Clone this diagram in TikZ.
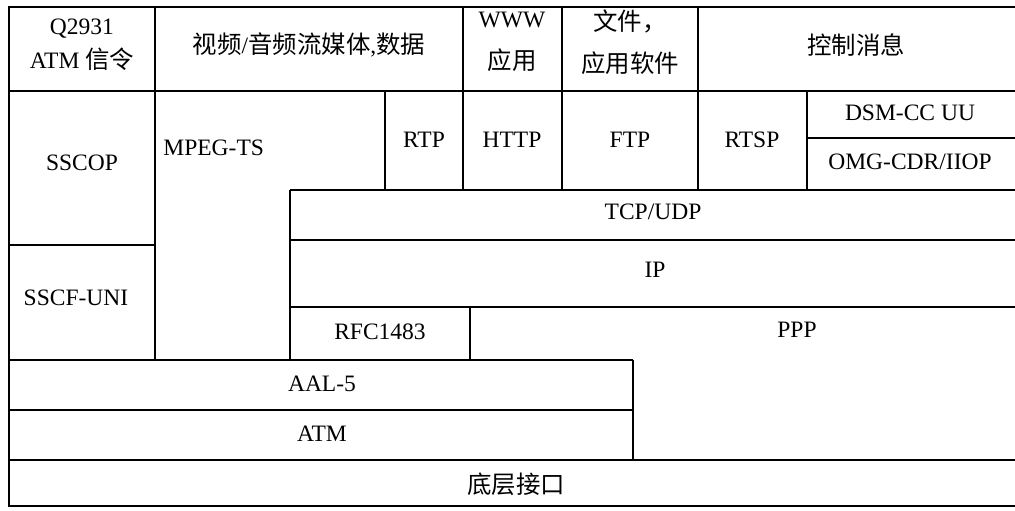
\documentclass[tikz,border=0pt]{standalone}
\usepackage{fontspec}
\setmainfont{Liberation Serif}
\newfontfamily\cjk{Noto Sans CJK SC}[Scale=1.04]
\begin{document}
\begin{tikzpicture}[
            x=0.5bp, y=-0.5bp,
            every node/.style={font=\fontsize{11.8}{17}\selectfont, inner sep=0pt, align=center},
            grid/.style={draw=black, line width=0.6pt},
            frame/.style={draw=black, line width=1pt},
        ]
            \useasboundingbox (0, 0) rectangle (1015, 511);
            % outer frame
            \draw[frame] (1015, 7) -- (9, 7) -- (9, 506) -- (1015, 506);
            % horizontal lines
            \draw[grid] (9, 91) -- (1015, 91);
            \draw[grid] (807, 138) -- (1015, 138);
            \draw[grid] (290, 190) -- (1015, 190);
            \draw[grid] (290, 240) -- (1015, 240);
            \draw[grid] (9, 245) -- (155, 245);
            \draw[grid] (290, 307) -- (1015, 307);
            \draw[grid] (9, 360) -- (633, 360);
            \draw[grid] (9, 410) -- (633, 410);
            \draw[grid] (9, 460) -- (1015, 460);
            % vertical lines
            \draw[grid] (155, 7) -- (155, 360);
            \draw[grid] (463, 7) -- (463, 190);
            \draw[grid] (562, 7) -- (562, 190);
            \draw[grid] (698, 7) -- (698, 190);
            \draw[grid] (385, 91) -- (385, 190);
            \draw[grid] (807, 91) -- (807, 190);
            \draw[grid] (290, 190) -- (290, 360);
            \draw[grid] (470, 307) -- (470, 360);
            \draw[grid] (633, 360) -- (633, 460);
            % application row
            \node (q2931) at (82, 45) {Q2931\\ATM {\cjk 信令}};
            \node (media) at (309, 45) {{\cjk 视频}/{\cjk 音频流媒体},{\cjk 数据}};
            \node (www) at (512, 42) {WWW\\[4pt]{\cjk 应用}};
            \node (files) at (630, 42) {{\cjk 文件，}\\[4pt]{\cjk 应用软件}};
            \node (ctrl) at (856, 45) {\cjk 控制消息};
            % protocols
            \node (sscop) at (82, 163) {SSCOP};
            \node[anchor=west] (mpeg) at (163, 148) {MPEG-TS};
            \node (rtp) at (424, 140) {RTP};
            \node (http) at (512, 140) {HTTP};
            \node (ftp) at (630, 140) {FTP};
            \node (rtsp) at (752, 140) {RTSP};
            \node (dsmcc) at (910, 113) {DSM-CC UU};
            \node (omg) at (910, 162) {OMG-CDR/IIOP};
            \node (tcp) at (653, 212) {TCP/UDP};
            \node (ip) at (655, 270) {IP};
            \node (sscf) at (76, 298) {SSCF-UNI};
            \node (rfc) at (380, 332) {RFC1483};
            \node (ppp) at (797, 330) {PPP};
            \node (aal) at (322, 384) {AAL-5};
            \node (atm) at (322, 434) {ATM};
            \node (phys) at (516, 484) {\cjk 底层接口};
        \end{tikzpicture}
\end{document}
